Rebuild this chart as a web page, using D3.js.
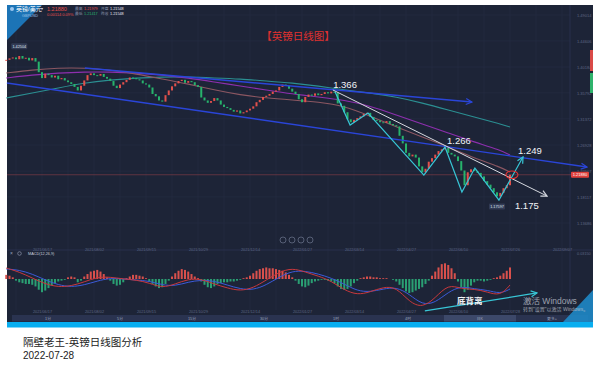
<!DOCTYPE html>
<html>
<head>
<meta charset="utf-8">
<script src="https://cdn.jsdelivr.net/npm/d3@7"></script>
<style>
body { margin: 0; background: #fff; }
svg { display: block; font-family: "Liberation Sans", "Noto Sans CJK SC", sans-serif; }
</style>
</head>
<body>
<svg id="root" width="600" height="378"></svg>
<script>
// GBP/USD daily, one close every 2 trading days (May 2021 - Jul 2022)
const closes = [
  1.4140,1.4165,1.4180,1.4150,1.4205,1.4160,1.4175,1.4130,1.4170,1.4110,
  1.3930,1.3830,1.3905,1.3880,1.3840,1.3870,1.3810,1.3830,1.3790,1.3760,
  1.3730,1.3680,1.3620,1.3700,1.3790,1.3880,1.3910,1.3880,1.3870,1.3900,
  1.3850,1.3820,1.3780,1.3700,1.3660,1.3720,1.3760,1.3800,1.3840,1.3830,
  1.3810,1.3790,1.3740,1.3720,1.3670,1.3560,1.3520,1.3450,1.3430,1.3540,
  1.3620,1.3690,1.3740,1.3780,1.3800,1.3750,1.3780,1.3760,1.3710,1.3680,
  1.3500,1.3450,1.3410,1.3440,1.3490,1.3450,1.3380,1.3340,1.3320,1.3290,
  1.3260,1.3280,1.3230,1.3250,1.3280,1.3310,1.3350,1.3420,1.3460,1.3510,
  1.3530,1.3560,1.3600,1.3620,1.3680,1.3720,1.3700,1.3650,1.3600,1.3560,
  1.3470,1.3420,1.3510,1.3550,1.3530,1.3570,1.3540,1.3560,1.3590,1.3570,
  1.3600,1.3580,1.3400,1.3360,1.3250,1.3130,1.3080,1.3120,1.3150,1.3180,
  1.3220,1.3240,1.3170,1.3120,1.3110,1.3080,1.3070,1.3100,1.3050,1.3030,
  1.3010,1.2850,1.2720,1.2560,1.2500,1.2530,1.2480,1.2330,1.2230,1.2290,
  1.2410,1.2470,1.2530,1.2590,1.2620,1.2650,1.2560,1.2530,1.2500,1.2420,
  1.2260,1.2010,1.2230,1.2280,1.2250,1.2220,1.2160,1.2080,1.2020,1.1960,
  1.1890,1.1820,1.1880,1.1960,1.2010,1.2188
];
const firstOpen = 1.4125;

// moving averages, sampled every 8 candles
const maIdx = [0,8,16,24,32,40,48,56,64,72,80,88,96,104,112,120,128,136,144,152,155];
const maTeal = [1.3492,1.3577,1.3662,1.3747,1.3798,1.3832,1.3849,1.3849,1.3832,1.3815,1.3781,1.3747,1.3696,1.3628,1.3577,1.3509,1.3407,1.3288,1.3169,1.3050,1.2999];
const maPurple = [1.3832,1.3883,1.3917,1.3934,1.3934,1.3917,1.3883,1.3832,1.3764,1.3696,1.3628,1.3560,1.3509,1.3458,1.3356,1.3203,1.3050,1.2897,1.2744,1.2608,1.2523];
const maBrown = [1.3917,1.3968,1.4002,1.4002,1.3968,1.3900,1.3815,1.3730,1.3628,1.3543,1.3492,1.3458,1.3424,1.3356,1.3186,1.2999,1.2829,1.2659,1.2472,1.2319,1.2234];

// MACD(12,26,9): lines sampled every 4 candles, histogram per candle
const macdIdx = [0,4,8,12,16,20,24,28,32,36,40,44,48,52,56,60,64,68,72,76,80,84,88,92,96,100,104,108,112,116,120,124,128,132,136,140,144,148,152,155];
const dif = [0.0133,0.0085,0.0012,-0.0061,-0.0097,-0.0085,-0.0036,0.0024,0.0024,0,-0.0012,-0.0048,-0.0109,-0.0061,0,0,-0.0061,-0.0109,-0.0145,-0.0109,-0.0012,0.0085,0.0133,0.0085,0.0036,-0.0024,-0.0133,-0.0194,-0.0157,-0.0097,-0.0097,-0.0278,-0.0351,-0.0230,-0.0061,-0.0121,-0.0121,-0.0157,-0.0206,-0.0073];
const dea = [0.0121,0.0109,0.0061,-0.0012,-0.0073,-0.0097,-0.0073,-0.0024,0.0012,0,-0.0012,-0.0024,-0.0073,-0.0085,-0.0036,-0.0012,-0.0024,-0.0073,-0.0121,-0.0133,-0.0073,0.0024,0.0097,0.0097,0.0061,0.0012,-0.0061,-0.0145,-0.0157,-0.0121,-0.0097,-0.0182,-0.0315,-0.0290,-0.0157,-0.0085,-0.0121,-0.0133,-0.0182,-0.0121];
const hist = [
  0.005,0.004,0.002,-0.002,-0.004,-0.005,-0.006,-0.006,-0.007,-0.009,
  -0.013,-0.016,-0.014,-0.011,-0.008,-0.005,-0.003,-0.002,-0.001,0.002,
  0.003,0.002,-0.004,-0.002,0.003,0.006,0.009,0.010,0.011,0.009,
  0.006,0.002,-0.002,-0.006,-0.008,-0.007,-0.004,0.001,0.003,0.005,
  0.005,0.004,0.003,0.001,-0.003,-0.006,-0.009,-0.011,-0.010,-0.006,
  -0.002,0.003,0.007,0.010,0.012,0.011,0.009,0.006,0.003,0.001,
  -0.003,-0.007,-0.010,-0.011,-0.009,-0.006,-0.005,-0.004,-0.004,-0.003,
  -0.003,-0.002,-0.001,0.001,0.002,0.004,0.007,0.010,0.012,0.013,
  0.014,0.013,0.013,0.012,0.011,0.010,0.008,0.005,0.002,-0.002,
  -0.006,-0.009,-0.010,-0.008,-0.005,-0.003,-0.002,-0.001,-0.001,-0.002,
  -0.003,-0.005,-0.009,-0.012,-0.013,-0.012,-0.009,-0.005,-0.002,0.001,
  0.002,0.003,0.003,0.002,0.002,0.001,0.001,0.001,0.000,-0.001,
  -0.003,-0.007,-0.011,-0.015,-0.017,-0.016,-0.014,-0.012,-0.010,-0.006,
  -0.002,0.004,0.009,0.014,0.018,0.019,0.017,0.013,0.007,-0.003,
  -0.010,-0.016,-0.013,-0.008,-0.004,-0.002,-0.002,-0.003,-0.002,-0.001,
  0.001,0.002,0.004,0.007,0.010,0.014
];

const dateIdx = [11,27,43,59,75,91,107,123,139,155,171];
const dateLabels = ["2021/06/17","2021/08/02","2021/09/15","2021/10/29","2021/12/14","2022/01/27","2022/03/14","2022/04/27","2022/06/10","2022/07/26","2022/09/07"];
const macdDateIdx = [11,27,43,59,75,91,107,123,139,155];
const macdDateLabels = ["2021/06/17","2021/08/02","2021/09/15","2021/10/29","2021/12/14","2022/01/27","2022/03/14","2022/04/27","2022/06/10","2022/07/28"];
const priceTicks = [1.49014,1.44606,1.40184,1.35792,1.31372,1.26928,1.22507,1.18117,1.13686];
const tabs = ["1分","5分","15分","30分","1时","4时","日K","更多+"];

// hand drawn annotations, in (candle index, price)
const channelLow = [[0.2,1.3747],[178.7,1.2319]];
const channelHigh = [[24.2,1.4002],[143.3,1.3424]];
const whiteTrend = [[100.5,1.3628],[166.4,1.1826]];
const zigzag = [[101.2,1.3594],[105.8,1.3033],[111.3,1.3237],[128.5,1.2183],[135,1.2659],[140.2,1.1894],[144.2,1.2302],[151.6,1.1758],[159,1.2489]];
const divergence = [[128.8,-0.0387],[163.3,-0.0169]];
const lastPrice = 1.2188;

const svg = d3.select('#root');
const x = d3.scaleLinear().domain([0, 155]).range([6.25, 510]);
const y = d3.scaleLinear().domain([1.13686, 1.49014]).range([223, 15]);
const my = d3.scaleLinear().domain([-0.0315, 0.0315]).range([305, 253]);

const BG = '#1d2437', GRID = '#262e45', AXIS = '#5d6784';
const UP = '#e2504c', DOWN = '#27b36c';

svg.append('rect').attr('width', 600).attr('height', 378).attr('fill', '#fff');
svg.append('rect').attr('x', 7).attr('y', 5).attr('width', 586).attr('height', 317).attr('fill', BG);

// markers
const defs = svg.append('defs');
[['blue', '#2a45d8'], ['white', '#d6d9e0'], ['cyan', '#38c6d6']].forEach(([id, c]) => {
  defs.append('marker').attr('id', 'arr-' + id)
    .attr('viewBox', '0 0 8 8').attr('refX', 7).attr('refY', 4)
    .attr('markerWidth', 8).attr('markerHeight', 8).attr('markerUnits', 'userSpaceOnUse')
    .attr('orient', 'auto')
    .append('path').attr('d', 'M1,1 L7,4 L1,7').attr('fill', 'none').attr('stroke', c).attr('stroke-width', 1.2);
});

// grid
const gridIdx = d3.range(3, 172, 8);
svg.append('g').selectAll('line').data(gridIdx).join('line')
  .attr('x1', d => x(d)).attr('x2', d => x(d)).attr('y1', 5).attr('y2', 310)
  .attr('stroke', GRID).attr('stroke-width', 0.6);
svg.append('g').selectAll('line').data(priceTicks).join('line')
  .attr('x1', 7).attr('x2', 570).attr('y1', d => y(d)).attr('y2', d => y(d))
  .attr('stroke', GRID).attr('stroke-width', 0.6);
svg.append('line').attr('x1', 570).attr('x2', 570).attr('y1', 5).attr('y2', 314).attr('stroke', '#2b3450').attr('stroke-width', 0.8);
svg.append('line').attr('x1', 7).attr('x2', 593).attr('y1', 250).attr('y2', 250).attr('stroke', '#2b3450').attr('stroke-width', 0.8);

// header
svg.append('polygon').attr('points', '7,5 42,5 7,40').attr('fill', '#1c74b6');
svg.append('circle').attr('cx', 12).attr('cy', 9).attr('r', 2).attr('fill', '#9cc6ef');
svg.append('text').attr('x', 16).attr('y', 11).attr('font-size', 6).attr('fill', '#fff').text('英镑/美元');
svg.append('text').attr('x', 22).attr('y', 16.5).attr('font-size', 3.8).attr('fill', '#9ec3e6').text('GBPUSD');
svg.append('text').attr('x', 41).attr('y', 10).attr('font-size', 4).attr('fill', '#cfd6e6').text('▾');
svg.append('text').attr('x', 47).attr('y', 10.5).attr('font-size', 5.5).attr('fill', UP).text('1.21880');
svg.append('text').attr('x', 47).attr('y', 15.5).attr('font-size', 4).attr('fill', UP).text('0.00114   0.09%');
const hdr = [
  [75, 9.5, '最高', '#8a93ad'], [84, 9.5, '1.21979', UP], [101, 9.5, '开盘', '#8a93ad'], [110, 9.5, '1.21548', '#e6e9f0'],
  [75, 15, '最低', '#8a93ad'], [84, 15, '1.21417', DOWN], [101, 15, '昨收', '#8a93ad'], [110, 15, '1.21548', '#e6e9f0']
];
svg.append('g').selectAll('text').data(hdr).join('text')
  .attr('x', d => d[0]).attr('y', d => d[1]).attr('font-size', 3.8).attr('fill', d => d[3]).text(d => d[2]);

svg.append('text').attr('x', 298).attr('y', 40).attr('text-anchor', 'middle')
  .attr('font-size', 10.5).attr('fill', '#e0312f').attr('font-family', '"Noto Sans CJK SC", sans-serif')
  .text('【英镑日线图】');

// moving averages
const maLine = d3.line().x(d => x(d[0])).y(d => y(d[1])).curve(d3.curveBasis);
[[maTeal, '#2b8f92'], [maPurple, '#8d2fae'], [maBrown, '#8c5762']].forEach(([vals, c]) => {
  svg.append('path').datum(maIdx.map((d, i) => [d, vals[i]]))
    .attr('d', maLine).attr('fill', 'none').attr('stroke', c).attr('stroke-width', 1.1);
});

// last price line
svg.append('line').attr('x1', 7).attr('x2', 571).attr('y1', y(lastPrice)).attr('y2', y(lastPrice))
  .attr('stroke', '#7c3a45').attr('stroke-width', 0.7);

// candles
const candles = closes.map((c, i) => ({ i, o: i ? closes[i - 1] : firstOpen, c }));
svg.append('g').selectAll('rect').data(candles).join('rect')
  .attr('x', d => x(d.i) - 1).attr('width', 2)
  .attr('y', d => y(Math.max(d.o, d.c)))
  .attr('height', d => Math.max(1, Math.abs(y(d.o) - y(d.c))))
  .attr('fill', d => d.c >= d.o ? UP : DOWN);

// drawn trend lines
const pt = d3.line().x(d => x(d[0])).y(d => y(d[1]));
svg.append('path').datum(channelLow).attr('d', pt).attr('fill', 'none')
  .attr('stroke', '#2a45d8').attr('stroke-width', 1.4).attr('marker-end', 'url(#arr-blue)');
svg.append('path').datum(channelHigh).attr('d', pt).attr('fill', 'none')
  .attr('stroke', '#2a45d8').attr('stroke-width', 1.4).attr('marker-end', 'url(#arr-blue)');
svg.append('path').datum(whiteTrend).attr('d', pt).attr('fill', 'none')
  .attr('stroke', '#d6d9e0').attr('stroke-width', 1).attr('marker-end', 'url(#arr-white)');
svg.append('path').datum(zigzag).attr('d', pt).attr('fill', 'none')
  .attr('stroke', '#38c6d6').attr('stroke-width', 1.2).attr('marker-end', 'url(#arr-cyan)');
svg.append('ellipse').attr('cx', x(155.6)).attr('cy', y(lastPrice)).attr('rx', 6).attr('ry', 3.8)
  .attr('fill', 'none').attr('stroke', '#e03535').attr('stroke-width', 1.1);

// price labels on the drawing
const notes = [
  [zigzag[0], '1.366', -2, -4], [zigzag[4], '1.266', 2, -3],
  [zigzag[8], '1.249', -5, -3], [zigzag[7], '1.175', 16, 9]
];
svg.append('g').selectAll('text').data(notes).join('text')
  .attr('x', d => x(d[0][0]) + d[2]).attr('y', d => y(d[0][1]) + d[3])
  .attr('font-size', 9.5).attr('fill', '#f2f4f8').text(d => d[1]);

// high / low tags
const hiI = d3.maxIndex(closes), loI = d3.minIndex(closes);
[[hiI, 1.42504, -7], [loI, 1.17597, 6.5]].forEach(([i, v, dy]) => {
  const cx = x(i), cy = y(v) + dy;
  svg.append('rect').attr('x', cx - 8).attr('y', cy - 3).attr('width', 16).attr('height', 6)
    .attr('rx', 1).attr('fill', '#323b55');
  svg.append('text').attr('x', cx).attr('y', cy + 1.5).attr('text-anchor', 'middle')
    .attr('font-size', 3.8).attr('fill', '#dfe3ec').text(v.toFixed(5));
});

// price axis
const yAxis = svg.append('g').attr('transform', 'translate(572,0)')
  .call(d3.axisRight(y).tickValues(priceTicks).tickSize(0).tickFormat(d3.format('.5f')));
yAxis.select('.domain').remove();
yAxis.selectAll('text').attr('font-size', 4).attr('fill', AXIS).attr('dx', 2);
svg.append('rect').attr('x', 571).attr('y', y(lastPrice) - 3).attr('width', 18).attr('height', 6)
  .attr('rx', 1).attr('fill', '#e0403c');
svg.append('text').attr('x', 580).attr('y', y(lastPrice) + 1.5).attr('text-anchor', 'middle')
  .attr('font-size', 4).attr('fill', '#fff').text('1.21880');
svg.append('rect').attr('x', 590).attr('y', 50).attr('width', 3).attr('height', 21).attr('fill', '#d94a47');
svg.append('rect').attr('x', 590).attr('y', 73).attr('width', 3).attr('height', 20).attr('fill', '#2fb36c');

// date axes
[[247.5, dateIdx, dateLabels], [310, macdDateIdx, macdDateLabels]].forEach(([ty, idx, labels]) => {
  const g = svg.append('g').attr('transform', `translate(0,${ty})`)
    .call(d3.axisBottom(x).tickValues(idx).tickSize(0).tickFormat((d, i) => labels[i]));
  g.select('.domain').remove();
  g.selectAll('text').attr('font-size', 3.8).attr('fill', AXIS).attr('dy', 0);
});

// zoom buttons
svg.append('g').selectAll('circle').data(['−', '‖', '⊳', '+']).join('circle')
  .attr('cx', (d, i) => 283 + i * 9).attr('cy', 240).attr('r', 3)
  .attr('fill', 'none').attr('stroke', '#8d96b0').attr('stroke-width', 0.5);

// MACD panel
svg.append('text').attr('x', 10).attr('y', 255).attr('font-size', 5).attr('fill', '#9aa3bc').text('×');
svg.append('circle').attr('cx', 19.5).attr('cy', 253.5).attr('r', 1.8).attr('fill', 'none').attr('stroke', '#9aa3bc').attr('stroke-width', 0.6);
svg.append('text').attr('x', 28).attr('y', 255).attr('font-size', 3.8).attr('fill', '#c9cfdd').text('MACD(12,26,9)');
svg.append('text').attr('x', 577).attr('y', 254.5).attr('font-size', 3.8).attr('fill', AXIS).text('0.03150');

svg.append('g').selectAll('rect').data(hist).join('rect')
  .attr('x', (d, i) => x(i) - 1).attr('width', 2)
  .attr('y', d => my(Math.max(0, d)))
  .attr('height', d => Math.abs(my(d) - my(0)))
  .attr('fill', d => d >= 0 ? '#d9504c' : '#2a9f73');

const macdLine = d3.line().x(d => x(d[0])).y(d => my(d[1])).curve(d3.curveBasis);
svg.append('path').datum(macdIdx.map((d, i) => [d, dea[i]])).attr('d', macdLine)
  .attr('fill', 'none').attr('stroke', '#3b5ad8').attr('stroke-width', 1);
svg.append('path').datum(macdIdx.map((d, i) => [d, dif[i]])).attr('d', macdLine)
  .attr('fill', 'none').attr('stroke', '#c8383d').attr('stroke-width', 1);

svg.append('path').datum(divergence).attr('d', d3.line().x(d => x(d[0])).y(d => my(d[1])))
  .attr('fill', 'none').attr('stroke', '#38c6d6').attr('stroke-width', 1.2).attr('marker-end', 'url(#arr-cyan)');
svg.append('text').attr('x', 457).attr('y', 304).attr('font-size', 8.5).attr('font-weight', 'bold')
  .attr('fill', '#f2f4f8').attr('font-family', '"Noto Sans CJK SC", sans-serif').text('底背离');

// period tabs
const tx = d3.scaleBand().domain(tabs).range([12, 588]);
svg.append('rect').attr('x', 12).attr('y', 315).attr('width', 576).attr('height', 6.5).attr('fill', '#2a3350');
svg.append('rect').attr('x', tx('日K')).attr('y', 315).attr('width', tx.bandwidth()).attr('height', 6.5).attr('fill', '#3c4869');
svg.append('g').selectAll('text').data(tabs).join('text')
  .attr('x', d => tx(d) + tx.bandwidth() / 2).attr('y', 319.7).attr('text-anchor', 'middle')
  .attr('font-size', 3.8).attr('fill', '#9aa3bc').text(d => d);

svg.append('rect').attr('x', 7).attr('y', 322).attr('width', 586).attr('height', 5.5).attr('fill', '#08aef0');

// windows watermark
svg.append('polygon').attr('points', '563,322 593,290 593,322').attr('fill', '#1f88c6').attr('opacity', 0.9);
svg.append('text').attr('x', 523).attr('y', 304).attr('font-size', 8.5).attr('fill', '#c4c9d4').attr('opacity', 0.75).text('激活 Windows');
svg.append('text').attr('x', 523).attr('y', 311).attr('font-size', 5).attr('fill', '#c4c9d4').attr('opacity', 0.75).text('转到"设置"以激活 Windows。');

// caption
svg.append('text').attr('x', 23).attr('y', 346).attr('font-size', 10.5).attr('fill', '#222')
  .attr('font-family', '"Noto Sans CJK SC", sans-serif').text('隔壁老王-英镑日线图分析');
svg.append('text').attr('x', 23).attr('y', 358.5).attr('font-size', 10).attr('fill', '#222')
  .text('2022-07-28');
</script>
</body>
</html>
